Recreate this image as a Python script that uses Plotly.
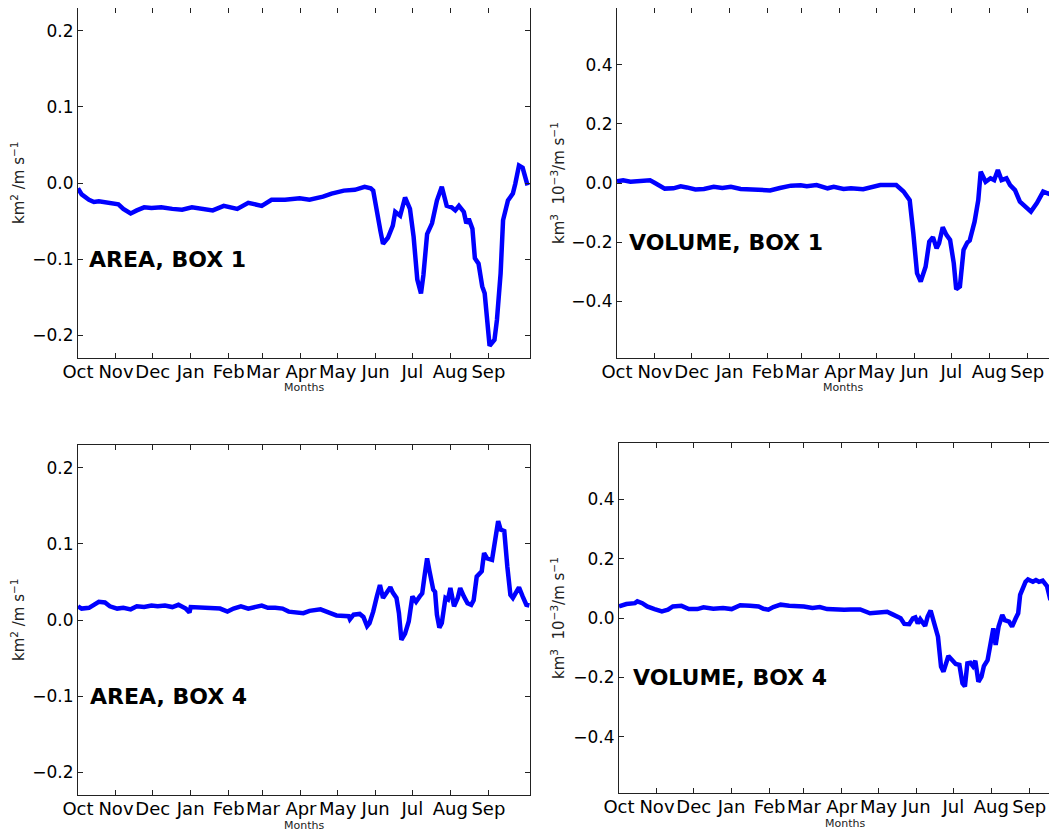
import plotly.graph_objects as go

# page is 1057x831; the html body has an 8px margin, so the figure is 1049x823
PAGE_W, PAGE_H = 1057, 831
OFF = 8
W, H = PAGE_W - OFF, PAGE_H - OFF

months = ["Oct", "Nov", "Dec", "Jan", "Feb", "Mar", "Apr", "May", "Jun", "Jul", "Aug", "Sep"]
month_starts = [0, 31, 61, 92, 123, 151, 182, 212, 243, 273, 304, 335]

area_ticks = [-0.2, -0.1, 0.0, 0.1, 0.2]
area_ticktext = ["\u22120.2", "\u22120.1", "0.0", "0.1", "0.2"]
vol_ticks = [-0.4, -0.2, 0.0, 0.2, 0.4]
vol_ticktext = ["\u22120.4", "\u22120.2", "0.0", "0.2", "0.4"]

# AREA, BOX 1
a1_days = [0, 3, 9, 13, 17, 26, 33, 37, 43, 48, 54, 60, 68, 77, 85, 93, 102, 110, 119, 130,
           139, 150, 158, 169, 181, 189, 200, 207, 217, 226, 234, 239, 241, 244, 247, 249, 253,
           257, 259, 263, 267, 271, 274, 277, 280, 282, 285, 289, 293, 297, 301, 305, 308, 311,
           315, 317, 319, 322, 324, 327, 330, 332, 334, 336, 340, 342, 345, 347, 351, 355, 357,
           360, 363, 367]
a1_vals = [-0.007, -0.015, -0.022, -0.025, -0.024, -0.027, -0.028, -0.034, -0.040, -0.036,
           -0.032, -0.033, -0.032, -0.034, -0.035, -0.032, -0.034, -0.036, -0.030, -0.034,
           -0.026, -0.030, -0.022, -0.022, -0.020, -0.022, -0.018, -0.014, -0.010, -0.009,
           -0.005, -0.007, -0.010, -0.040, -0.064, -0.080, -0.072, -0.056, -0.038, -0.043,
           -0.019, -0.034, -0.071, -0.127, -0.145, -0.121, -0.067, -0.053, -0.023, -0.005,
           -0.030, -0.032, -0.036, -0.030, -0.038, -0.053, -0.047, -0.060, -0.099, -0.106,
           -0.136, -0.145, -0.175, -0.214, -0.206, -0.180, -0.119, -0.049, -0.023, -0.014,
           -0.001, 0.023, 0.020, -0.003]

# VOLUME, BOX 1
v1_days = [0, 5, 11, 19, 27, 31, 39, 46, 52, 57, 64, 71, 79, 86, 93, 101, 112, 125, 133, 142,
           150, 155, 163, 172, 177, 185, 191, 201, 215, 228, 234, 239, 242, 245, 248, 252, 255,
           258, 261, 263, 266, 269, 272, 275, 277, 280, 283, 286, 288, 292, 295, 297, 301, 305,
           308, 311, 314, 318, 321, 325, 329, 332, 338, 343, 348, 353, 359]
v1_vals = [0.006, 0.009, 0.004, 0.008, 0.009, 0.000, -0.019, -0.018, -0.011, -0.015, -0.022,
           -0.020, -0.013, -0.017, -0.013, -0.020, -0.022, -0.025, -0.017, -0.009, -0.008,
           -0.011, -0.007, -0.018, -0.013, -0.020, -0.018, -0.021, -0.007, -0.007, -0.029,
           -0.058, -0.171, -0.306, -0.334, -0.284, -0.199, -0.184, -0.221, -0.204, -0.150,
           -0.176, -0.193, -0.272, -0.360, -0.351, -0.227, -0.202, -0.195, -0.131, -0.058,
           0.038, 0.004, 0.016, 0.010, 0.044, 0.010, 0.016, -0.007, -0.024, -0.063, -0.075,
           -0.097, -0.067, -0.029, -0.037, -0.012]

# AREA, BOX 4
a4_days = [0, 3, 9, 13, 17, 22, 26, 32, 37, 43, 48, 54, 60, 65, 71, 77, 82, 88, 91, 92, 99,
           108, 116, 122, 127, 133, 139, 150, 155, 161, 167, 172, 184, 189, 198, 206, 211, 221,
           222, 225, 230, 233, 236, 238, 241, 244, 246.5, 249, 252, 255, 257, 260, 262, 264,
           267, 270, 273, 276, 279, 281, 283, 285, 287, 290, 291.5, 293, 295, 297, 300, 302,
           304, 307, 310, 312, 315, 318, 321, 323, 325.5, 329.6, 331.5, 334, 338, 340, 343,
           345, 348, 350.5, 353, 355, 358, 360, 363, 366, 368.5]
a4_vals = [0.018, 0.015, 0.016, 0.020, 0.024, 0.023, 0.018, 0.015, 0.016, 0.014, 0.018, 0.017,
           0.019, 0.018, 0.019, 0.017, 0.020, 0.015, 0.010, 0.017, 0.016, 0.016, 0.015, 0.011,
           0.015, 0.018, 0.015, 0.019, 0.016, 0.016, 0.015, 0.011, 0.009, 0.012, 0.014, 0.009,
           0.006, 0.005, 0.001, 0.007, 0.008, 0.004, -0.008, -0.004, 0.011, 0.031, 0.046,
           0.029, 0.035, 0.043, 0.036, 0.029, 0.009, -0.026, -0.018, -0.002, 0.031, 0.024,
           0.031, 0.035, 0.059, 0.081, 0.064, 0.040, 0.037, 0.007, -0.010, -0.004, 0.029,
           0.027, 0.042, 0.018, 0.029, 0.042, 0.031, 0.022, 0.020, 0.026, 0.057, 0.064, 0.088,
           0.081, 0.079, 0.099, 0.130, 0.119, 0.117, 0.070, 0.033, 0.029, 0.037, 0.043, 0.031,
           0.020, 0.019]

# VOLUME, BOX 4
v4_days = [0, 6, 13, 15, 19, 23, 29, 35, 40, 44, 51, 57, 64, 69, 77, 85, 92, 99, 107, 114,
           118, 122, 126, 132, 139, 151, 158, 164, 170, 175, 184, 189, 197, 205, 219, 223, 230,
           233, 237, 240, 242, 244, 246, 250, 252, 254.5, 257, 260.5, 263, 265, 269, 272, 275,
           278, 280.5, 282.5, 284.5, 287, 289, 291, 293.5, 296, 298, 301, 303.5, 305.7, 307.6,
           310, 313, 315, 318.5, 321, 324, 326, 327.6, 332, 334, 338, 340.5, 343, 346, 349.5,
           352, 355, 358.5]
v4_vals = [0.039, 0.047, 0.050, 0.056, 0.050, 0.039, 0.030, 0.022, 0.028, 0.039, 0.041, 0.030,
           0.030, 0.036, 0.031, 0.034, 0.030, 0.043, 0.041, 0.039, 0.031, 0.028, 0.037, 0.045,
           0.041, 0.039, 0.034, 0.037, 0.030, 0.028, 0.028, 0.029, 0.029, 0.016, 0.021, 0.013,
           -0.001, -0.020, -0.021, -0.001, 0.002, -0.018, -0.004, -0.027, 0.004, 0.025, -0.012,
           -0.063, -0.164, -0.181, -0.128, -0.142, -0.155, -0.158, -0.220, -0.231, -0.153,
           -0.151, -0.162, -0.144, -0.215, -0.198, -0.162, -0.142, -0.085, -0.035, -0.091,
           -0.029, 0.010, -0.007, -0.012, -0.029, -0.001, 0.016, 0.078, 0.122, 0.130, 0.122,
           0.128, 0.122, 0.126, 0.108, 0.066, 0.063, 0.063]

area_title = "km<sup>2</sup> /m s<sup>\u22121</sup>"
vol_title = "km<sup>3</sup>  10<sup>\u22123</sup>/m s<sup>\u22121</sup>"

panels = [
    dict(days=a1_days, vals=a1_vals, label="AREA, BOX 1", tv=area_ticks, tt=area_ticktext,
         yr=[-0.23, 0.23], xpx=(78, 530), ypx=(8, 358), xmax=369,
         ytitle=area_title, tx=18, lab=(7, -0.1)),
    dict(days=v1_days, vals=v1_vals, label="VOLUME, BOX 1", tv=vol_ticks, tt=vol_ticktext,
         yr=[-0.593, 0.593], xpx=(617, 1057), ypx=(8, 358), xmax=359.3,
         ytitle=vol_title, tx=558, lab=(8, -0.2)),
    dict(days=a4_days, vals=a4_vals, label="AREA, BOX 4", tv=area_ticks, tt=area_ticktext,
         yr=[-0.23, 0.23], xpx=(78, 530), ypx=(445, 795), xmax=369,
         ytitle=area_title, tx=18, lab=(8, -0.1)),
    dict(days=v4_days, vals=v4_vals, label="VOLUME, BOX 4", tv=vol_ticks, tt=vol_ticktext,
         yr=[-0.59, 0.59], xpx=(619, 1057), ypx=(443, 793), xmax=357.7,
         ytitle=vol_title, tx=558, lab=(10, -0.2)),
]


def px_x(px):
    return (px - OFF) / W


def px_y(py):
    return 1 - (py - OFF) / H


FONT = "DejaVu Sans"
fig = go.Figure()
annotations = []
layout = {}
for i, p in enumerate(panels, start=1):
    xa = "x" if i == 1 else f"x{i}"
    ya = "y" if i == 1 else f"y{i}"
    fig.add_trace(go.Scatter(x=p["days"], y=p["vals"], mode="lines", xaxis=xa, yaxis=ya,
                             line=dict(color="#0000ff", width=4.5), showlegend=False,
                             hoverinfo="skip"))
    x0, x1 = p["xpx"]
    yt, yb = p["ypx"]
    right_clipped = x1 >= PAGE_W
    layout["xaxis" if i == 1 else f"xaxis{i}"] = dict(
        domain=[px_x(x0), min(1.0, px_x(x1))], anchor=ya, range=[0, p["xmax"]],
        tickvals=month_starts, ticktext=months, ticks="inside", ticklen=5, tickangle=0,
        tickcolor="#222", showline=True, linecolor="#222", linewidth=1, mirror="ticks",
        showgrid=False, zeroline=False, automargin=False, ticklabelstandoff=-3,
        tickfont=dict(family=FONT, size=18, color="black"), fixedrange=True)
    layout["yaxis" if i == 1 else f"yaxis{i}"] = dict(
        domain=[px_y(yb), px_y(yt)], anchor=xa, range=p["yr"],
        tickvals=p["tv"], ticktext=p["tt"], ticks="inside", ticklen=5,
        tickcolor="#222", showline=True, linecolor="#222", linewidth=1,
        mirror=False if right_clipped else "ticks", automargin=False,
        showgrid=False, zeroline=False, tickfont=dict(family=FONT, size=17, color="black"),
        fixedrange=True)
    annotations.append(dict(x=p["lab"][0], y=p["lab"][1], xref=xa, yref=ya, xanchor="left",
                            yanchor="middle", showarrow=False, text="<b>" + p["label"] + "</b>",
                            font=dict(family=FONT, size=22, color="black")))
    annotations.append(dict(x=px_x(p["tx"]), y=px_y((yt + yb) / 2), xref="paper", yref="paper",
                            xanchor="center", yanchor="middle", showarrow=False, textangle=-90,
                            text=p["ytitle"], font=dict(family=FONT, size=15, color="#222")))
    full_right = x0 + 451
    annotations.append(dict(x=px_x((x0 + full_right) / 2), y=px_y(yb + 30), xref="paper",
                            yref="paper", xanchor="center", yanchor="middle", showarrow=False,
                            text="Months", font=dict(family=FONT, size=11, color="#222")))

fig.update_layout(
    template="none",
    width=W, height=H, margin=dict(l=0, r=0, t=0, b=0, autoexpand=False),
    paper_bgcolor="white", plot_bgcolor="white", annotations=annotations,
    font=dict(family=FONT), **layout)

fig.write_html("out.html", config={"displayModeBar": False})
